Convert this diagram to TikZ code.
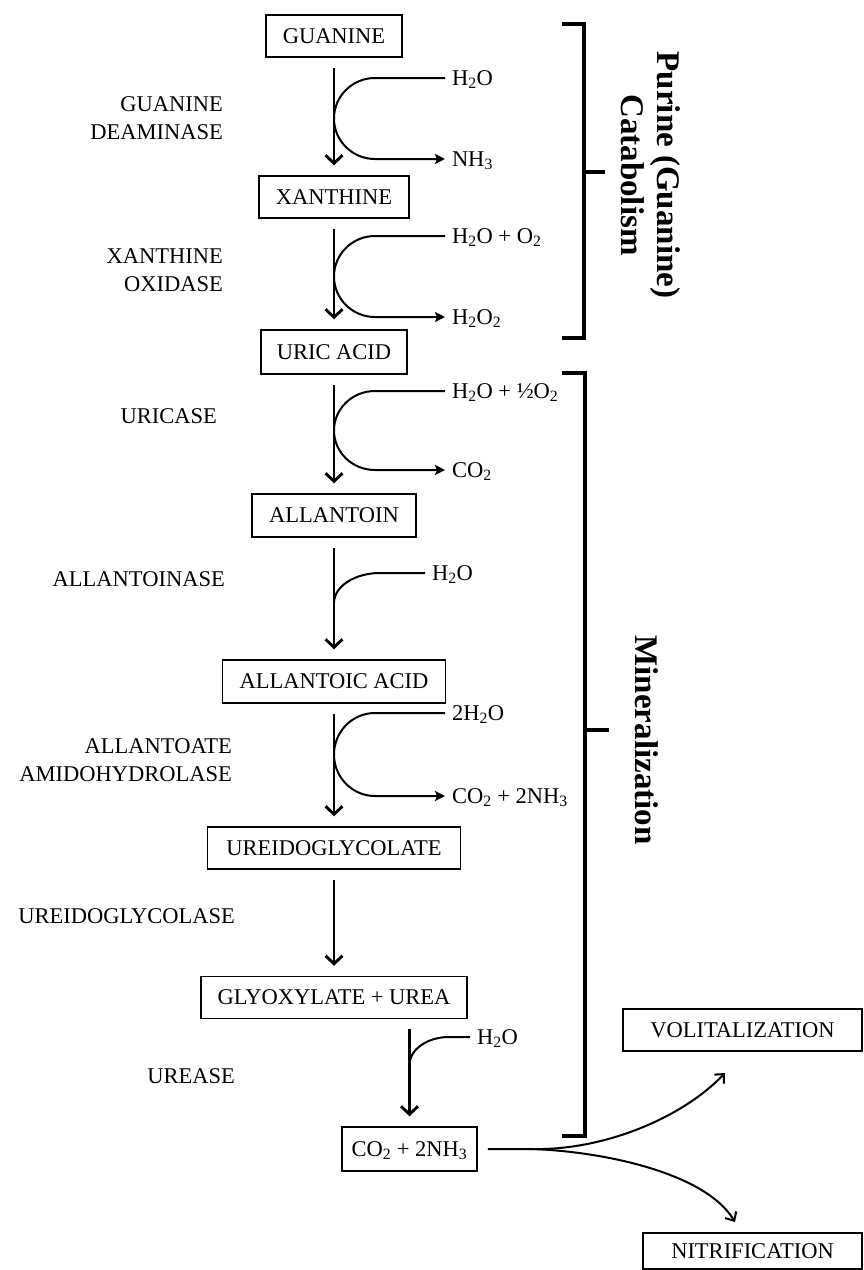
\documentclass[tikz,border=0pt]{standalone}
\usepackage{fontspec}
\setmainfont{Liberation Serif}
\usetikzlibrary{arrows.meta}
\newcommand{\sbs}[1]{\textsubscript{#1}}
\begin{document}
\begin{tikzpicture}[x=1pt,y=-1pt,
  box/.style={draw, line width=1.5pt, inner sep=0pt, text height=16pt, text depth=2pt, font=\fontsize{22.5}{28}\selectfont},
  enz/.style={anchor=east, align=right, inner sep=0pt, font=\fontsize{22.5}{28}\selectfont},
  chem/.style={anchor=west, inner ysep=0pt, inner xsep=0pt, outer xsep=7pt, text height=16pt, text depth=2pt, font=\fontsize{22.5}{28}\selectfont},
  mainarrow/.style={line width=2.9pt, -{Straight Barb[length=8pt,width=17pt]}, shorten <=10pt, shorten >=10pt},
  sidearrow/.style={line width=2pt, -{Stealth[length=10pt,width=10pt,inset=2pt]}},
  splitarrow/.style={line width=2pt, -{Straight Barb[length=7pt,width=13pt]}},
  sideline/.style={line width=2pt},
  bracket/.style={line width=3.3pt},
  big/.style={rotate=-90, align=center, inner sep=0pt, font=\bfseries\fontsize{33}{36}\selectfont}]
\useasboundingbox (0,0) rectangle (864,1270);

% boxes
\node[box, minimum width=136pt, minimum height=42pt] (gua) at (334,36) {GUANINE};
\node[box, minimum width=150pt, minimum height=42pt] (xan) at (334,197) {XANTHINE};
\node[box, minimum width=146pt, minimum height=44pt] (uric) at (334,352) {URIC ACID};
\node[box, minimum width=164pt, minimum height=43pt] (alln) at (334,515.5) {ALLANTOIN};
\node[box, minimum width=223pt, minimum height=43pt] (allc) at (334,681.5) {ALLANTOIC ACID};
\node[box, minimum width=253pt, minimum height=42pt] (ureg) at (334,848) {UREIDOGLYCOLATE};
\node[box, minimum width=266pt, minimum height=42pt] (gly) at (334,997.5) {GLYOXYLATE + UREA};
\node[box, minimum width=135pt, minimum height=44pt] (co2) at (409.5,1149) {CO\sbs{2} + 2NH\sbs{3}};
\node[box, minimum width=239pt, minimum height=42pt] (vol) at (742.5,1030) {VOLITALIZATION};
\node[box, minimum width=219pt, minimum height=36pt] (nit) at (752.5,1251) {NITRIFICATION};

% enzymes
\node[enz] (e1) at (223,118) {GUANINE\\DEAMINASE};
\node[enz] (e2) at (223,270.5) {XANTHINE\\OXIDASE};
\node[enz] (e3) at (217,416) {URICASE};
\node[enz] (e4) at (225,579) {ALLANTOINASE};
\node[enz] (e5) at (232,760) {ALLANTOATE\\AMIDOHYDROLASE};
\node[enz] (e6) at (235,916) {UREIDOGLYCOLASE};
\node[enz] (e7) at (235,1076) {UREASE};

% side chemicals
\node[chem] (a1) at (445,78) {H\sbs{2}O};
\node[chem] (b1) at (445,159) {NH\sbs{3}};
\node[chem] (a2) at (445,236) {H\sbs{2}O + O\sbs{2}};
\node[chem] (b2) at (445,317) {H\sbs{2}O\sbs{2}};
\node[chem] (a3) at (445,391) {H\sbs{2}O + ½O\sbs{2}};
\node[chem] (b3) at (445,470) {CO\sbs{2}};
\node[chem] (a4) at (425,573) {H\sbs{2}O};
\node[chem] (a5) at (445,713) {2H\sbs{2}O};
\node[chem] (b5) at (445,796) {CO\sbs{2} + 2NH\sbs{3}};
\node[chem] (a7) at (470,1037) {H\sbs{2}O};

% main arrows
\draw[mainarrow] (gua) -- (xan);
\draw[mainarrow] (xan) -- (uric);
\draw[mainarrow] (uric) -- (alln);
\draw[mainarrow] (alln) -- (allc);
\draw[mainarrow] (allc) -- (ureg);
\draw[mainarrow] (ureg) -- (gly);
\draw[mainarrow] (co2.north |- gly.south) -- (co2.north);

% side curves
\draw[sidearrow] (a1.west) -- ++(-70,0) arc[start angle=270, end angle=90, x radius=41, y radius=40.5] -- (b1.west);
\draw[sidearrow] (a2.west) -- ++(-70,0) arc[start angle=270, end angle=90, x radius=41, y radius=40.5] -- (b2.west);
\draw[sidearrow] (a3.west) -- ++(-70,0) arc[start angle=270, end angle=90, x radius=41, y radius=39.5] -- (b3.west);
\draw[sidearrow] (a5.west) -- ++(-70,0) arc[start angle=270, end angle=90, x radius=41, y radius=41.5] -- (b5.west);
\draw[sideline] (a4.west) -- ++(-45,0) arc[start angle=270, end angle=180, x radius=46, y radius=30];
\draw[sideline] (a7.west) -- ++(-21,0) arc[start angle=270, end angle=180, x radius=39.5, y radius=28];

% split
\coordinate (s0) at ([xshift=10pt]co2.east);
\coordinate (s1) at ([xshift=53pt]co2.east);
\coordinate (vtip) at (725,1073);
\coordinate (ntip) at (735,1222);
\draw[splitarrow] (s0) -- (s1) .. controls (600,1151) and (680,1120) .. (vtip);
\draw[splitarrow] (s1) .. controls (600,1151) and (705,1172) .. (ntip);

% brackets
\draw[bracket] (562,24) -- (584,24) -- (584,338) -- (562,338);
\draw[bracket] (584,172) -- (605,172);
\draw[bracket] (562,373) -- (585,373) -- (585,1136) -- (562,1136);
\draw[bracket] (585,730) -- (609,730);

\node[big] (t1) at (651,175) {Purine (Guanine)\\Catabolism};
\node[big] (t2) at (647,740) {Mineralization};
\end{tikzpicture}
\end{document}
